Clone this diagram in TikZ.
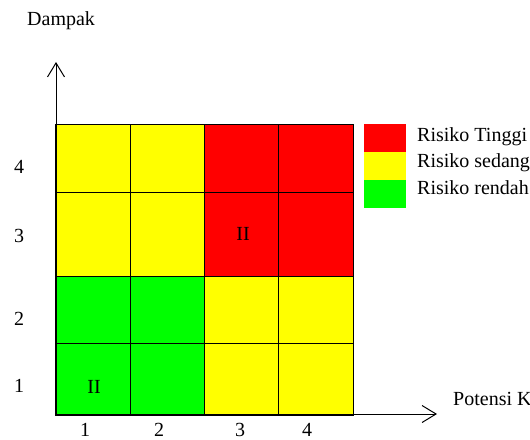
\documentclass[tikz,border=0pt]{standalone}
\usepackage{fontspec}
\newfontfamily\tnr{LiberationSerif-Regular.ttf}
\usetikzlibrary{arrows.meta}
\definecolor{rred}{RGB}{255,0,0}
\definecolor{ryel}{RGB}{255,255,0}
\definecolor{rgrn}{RGB}{0,255,0}
\begin{document}
\begin{tikzpicture}[x=1pt,y=-1pt,
  lbl/.style={font=\tnr\fontsize{20}{24}\selectfont, inner sep=0pt},
  cell/.style={draw=black, line width=1pt, inner sep=0pt, anchor=north west},
  key/.style={inner sep=0pt, anchor=north west, minimum width=42pt, minimum height=28pt},
  axis/.style={line width=1pt, -{Straight Barb[length=14pt,width=17pt,line width=1pt]}}]
\useasboundingbox (0,0) rectangle (530,439);
% row 1
\node[cell, fill=ryel, minimum width=74pt, minimum height=68pt] (c11) at (56,124) {};
\node[cell, fill=ryel, minimum width=74pt, minimum height=68pt] (c12) at (130,124) {};
\node[cell, fill=rred, minimum width=74pt, minimum height=68pt] (c13) at (204,124) {};
\node[cell, fill=rred, minimum width=75pt, minimum height=68pt] (c14) at (278,124) {};
% row 2
\node[cell, fill=ryel, minimum width=74pt, minimum height=84pt] (c21) at (56,192) {};
\node[cell, fill=ryel, minimum width=74pt, minimum height=84pt] (c22) at (130,192) {};
\node[cell, fill=rred, minimum width=74pt, minimum height=84pt] (c23) at (204,192) {};
\node[cell, fill=rred, minimum width=75pt, minimum height=84pt] (c24) at (278,192) {};
% row 3
\node[cell, fill=rgrn, minimum width=74pt, minimum height=67pt] (c31) at (56,276) {};
\node[cell, fill=rgrn, minimum width=74pt, minimum height=67pt] (c32) at (130,276) {};
\node[cell, fill=ryel, minimum width=74pt, minimum height=67pt] (c33) at (204,276) {};
\node[cell, fill=ryel, minimum width=75pt, minimum height=67pt] (c34) at (278,276) {};
% row 4
\node[cell, fill=rgrn, minimum width=74pt, minimum height=71pt] (c41) at (56,343) {};
\node[cell, fill=rgrn, minimum width=74pt, minimum height=71pt] (c42) at (130,343) {};
\node[cell, fill=ryel, minimum width=74pt, minimum height=71pt] (c43) at (204,343) {};
\node[cell, fill=ryel, minimum width=75pt, minimum height=71pt] (c44) at (278,343) {};
% axes
\coordinate (o) at (56,414);
\coordinate (ytip) at (56,62);
\coordinate (xtip) at (437,414);
\draw[axis] (o) -- (ytip);
\draw[axis] (o) -- (xtip);
\draw[line width=2.2pt] (c11.north west) -- (c41.south west) -- (c44.south east);
% cell marks
\node[lbl, anchor=base] (m1) at (94,393) {II};
\node[lbl, anchor=base] (m2) at (243,240) {II};
% axis labels
\node[lbl, anchor=base west] (dampak) at (27,25) {Dampak};
\node[lbl, anchor=base west] (potensi) at (453,405) {Potensi K};
\node[lbl, anchor=base] (y4) at (19,173) {4};
\node[lbl, anchor=base] (y3) at (19,242) {3};
\node[lbl, anchor=base] (y2) at (19,325) {2};
\node[lbl, anchor=base] (y1) at (19,392) {1};
\node[lbl, anchor=base] (x1) at (85,436) {1};
\node[lbl, anchor=base] (x2) at (159,436) {2};
\node[lbl, anchor=base] (x3) at (240,436) {3};
\node[lbl, anchor=base] (x4) at (307,436) {4};
% legend
\node[key, fill=rred] (kr) at (364,124) {};
\node[key, fill=ryel] (ky) at (364,152) {};
\node[key, fill=rgrn] (kg) at (364,180) {};
\node[lbl, anchor=base west] (tr) at (417,141) {Risiko Tinggi};
\node[lbl, anchor=base west] (ty) at (417,167) {Risiko sedang};
\node[lbl, anchor=base west] (tg) at (417,194) {Risiko rendah};
\end{tikzpicture}
\end{document}
